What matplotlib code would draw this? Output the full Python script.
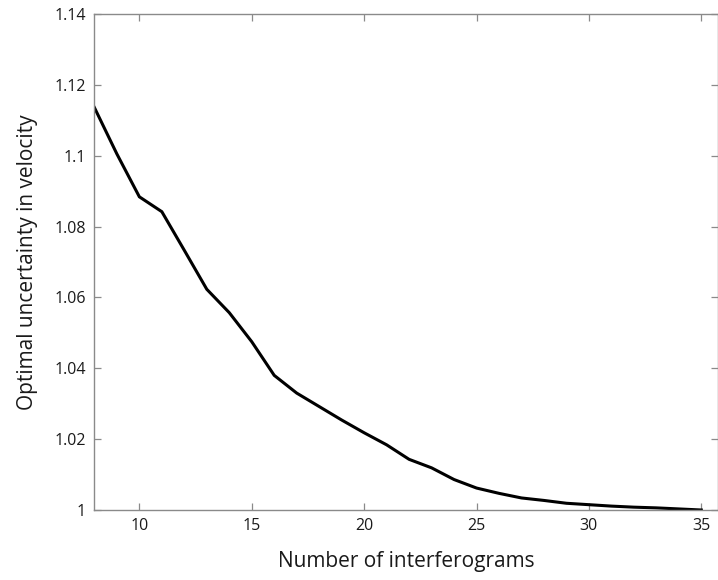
import matplotlib
matplotlib.use("Agg")
import matplotlib.pyplot as plt

# Optimal velocity uncertainty (normalised) versus number of interferograms
n_interferograms = [8, 9, 10, 11, 12, 13, 14, 15, 16, 17, 18, 19, 20, 21,
                    22, 23, 24, 25, 26, 27, 28, 29, 30, 31, 32, 33, 34, 35]
uncertainty = [1.1136, 1.1005, 1.0884, 1.0842, 1.0733, 1.0623, 1.0557, 1.0475,
               1.0380, 1.0330, 1.0292, 1.0254, 1.0218, 1.0184, 1.0143, 1.0119,
               1.0086, 1.0062, 1.0047, 1.0034, 1.0027, 1.0019, 1.0015, 1.0011,
               1.0008, 1.0006, 1.0003, 1.0000]

x_ticks = [10, 15, 20, 25, 30, 35]
x_tick_labels = ["10", "15", "20", "25", "30", "35"]
y_ticks = [1.0, 1.02, 1.04, 1.06, 1.08, 1.10, 1.12, 1.14]
y_tick_labels = ["1", "1.02", "1.04", "1.06", "1.08", "1.1", "1.12", "1.14"]

plt.rcParams["font.family"] = ["Open Sans", "DejaVu Sans"]

W, H = 718, 580
fig = plt.figure(figsize=(W / 100, H / 100), dpi=100)
ax = fig.add_axes([94.4 / W, (H - 510) / H, (717.5 - 94.4) / W, (510 - 14) / H])

ax.plot(n_interferograms, uncertainty, color="black", linewidth=2.2,
        solid_joinstyle="miter")

ax.set_xlim(8, 35.72)
ax.set_ylim(1.0, 1.14)
ax.set_xticks(x_ticks)
ax.set_xticklabels(x_tick_labels)
ax.set_yticks(y_ticks)
ax.set_yticklabels(y_tick_labels)

spine_col = "#8a8a8a"
for s in ax.spines.values():
    s.set_color(spine_col)
    s.set_linewidth(1.0)
ax.tick_params(direction="in", length=5, width=0.9, color=spine_col,
               top=True, right=True, labelsize=11.5, labelcolor="#1a1a1a", pad=6)

ax.set_xlabel("Number of interferograms", fontsize=15, color="#1a1a1a", labelpad=12)
ax.set_ylabel("Optimal uncertainty in velocity", fontsize=15, color="#1a1a1a", labelpad=12)

fig.savefig("out.png", dpi=100)
